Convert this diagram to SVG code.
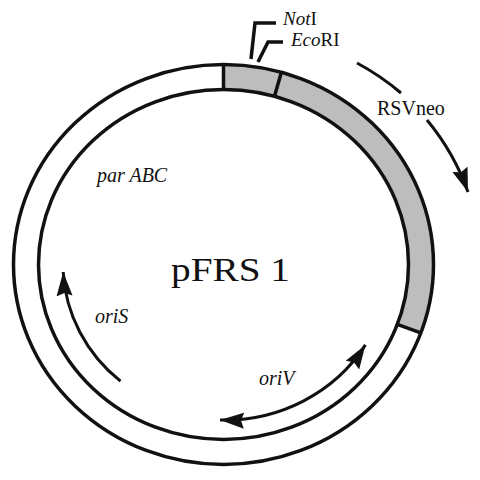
<svg xmlns="http://www.w3.org/2000/svg" width="480" height="480" viewBox="0 0 480 480">
<style>
.ln{fill:none;stroke:#111;stroke-width:3.5}
.ar{fill:none;stroke:#111;stroke-width:3}
.t{font-family:"Liberation Serif","Times New Roman",serif;font-size:20px;fill:#111}
.s{font-size:19px}
.i{font-style:italic}
</style>
<defs>
<marker id="ah" markerUnits="userSpaceOnUse" markerWidth="28" markerHeight="18" refX="24" refY="8" orient="auto-start-reverse" viewBox="0 0 28 18">
<path d="M0,0 L24,8 L0,16 L3,8 z" fill="#111"/>
</marker>
</defs>
<rect width="480" height="480" fill="#fff"/>
<g id="plasmid">
<path d="M223.5,64.5 A210,200 0 0 1 420.8,332.9 L397.3,324.4 A185,175 0 0 0 223.5,89.5 Z" fill="#bdbdbd"/>
<ellipse class="ln" cx="223.5" cy="264.5" rx="210" ry="200"/>
<ellipse class="ln" cx="223.5" cy="264.5" rx="185" ry="175"/>
<line class="ln" x1="223.5" y1="64.5" x2="223.5" y2="89.5"/>
<line class="ln" x1="281.4" y1="72.2" x2="274.5" y2="96.3"/>
<line class="ln" x1="420.8" y1="332.9" x2="397.3" y2="324.4"/>
</g>
<g id="sites">
<path class="ln" d="M251,59 L255,23 L276,23"/>
<path class="ln" d="M258,62 L268,42 L283,42"/>
<text class="t s" x="283" y="25"><tspan class="i">Not</tspan>I</text>
<text class="t s" x="291" y="46"><tspan class="i">Eco</tspan>RI</text>
</g>
<g id="connectors">
<path class="ar" d="M357,63 A253,241 0 0 1 401,93"/>
<path class="ar" d="M427,120 A253,241 0 0 1 468,192" marker-end="url(#ah)"/>
<path class="ar" d="M120.5,381.2 A161,153 0 0 1 63.2,272" marker-end="url(#ah)"/>
<path class="ar" d="M365.4,344.9 A165,157 0 0 1 220,420" marker-start="url(#ah)" marker-end="url(#ah)"/>
</g>
<g id="labels">
<text class="t" x="377" y="115">RSVneo</text>
<text class="t i" x="97" y="182">par ABC</text>
<text class="t i" x="95" y="323">oriS</text>
<text class="t i" x="259" y="385">oriV</text>
<text class="t" x="171" y="281" style="font-size:33px" textLength="119" lengthAdjust="spacingAndGlyphs">pFRS 1</text>
</g>
</svg>
